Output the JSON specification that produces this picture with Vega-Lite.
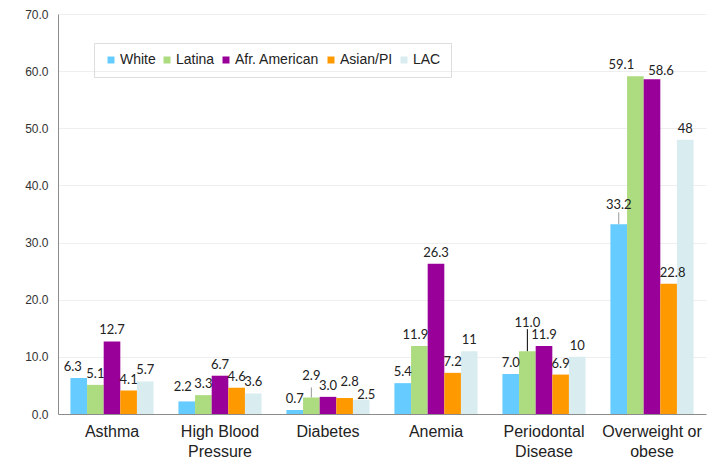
{
  "$schema": "https://vega.github.io/schema/vega-lite/v6.json",
  "width": 648,
  "height": 400,
  "autosize": {"type": "none"},
  "padding": {"left": 58, "top": 14, "right": 8, "bottom": 55},
  "background": "white",
  "config": {
    "view": {"stroke": null},
    "font": "Liberation Sans"
  },
  "data": {
    "values": [
      {"condition": "Asthma", "group": "White", "value": 6.3, "label": "6.3"},
      {"condition": "Asthma", "group": "Latina", "value": 5.1, "label": "5.1"},
      {"condition": "Asthma", "group": "Afr. American", "value": 12.7, "label": "12.7"},
      {"condition": "Asthma", "group": "Asian/PI", "value": 4.1, "label": "4.1"},
      {"condition": "Asthma", "group": "LAC", "value": 5.7, "label": "5.7"},
      {"condition": "High Blood Pressure", "group": "White", "value": 2.2, "label": "2.2"},
      {"condition": "High Blood Pressure", "group": "Latina", "value": 3.3, "label": "3.3"},
      {"condition": "High Blood Pressure", "group": "Afr. American", "value": 6.7, "label": "6.7"},
      {"condition": "High Blood Pressure", "group": "Asian/PI", "value": 4.6, "label": "4.6"},
      {"condition": "High Blood Pressure", "group": "LAC", "value": 3.6, "label": "3.6"},
      {"condition": "Diabetes", "group": "White", "value": 0.7, "label": "0.7"},
      {"condition": "Diabetes", "group": "Latina", "value": 2.9, "label": "2.9"},
      {"condition": "Diabetes", "group": "Afr. American", "value": 3.0, "label": "3.0"},
      {"condition": "Diabetes", "group": "Asian/PI", "value": 2.8, "label": "2.8"},
      {"condition": "Diabetes", "group": "LAC", "value": 2.5, "label": "2.5"},
      {"condition": "Anemia", "group": "White", "value": 5.4, "label": "5.4"},
      {"condition": "Anemia", "group": "Latina", "value": 11.9, "label": "11.9"},
      {"condition": "Anemia", "group": "Afr. American", "value": 26.3, "label": "26.3"},
      {"condition": "Anemia", "group": "Asian/PI", "value": 7.2, "label": "7.2"},
      {"condition": "Anemia", "group": "LAC", "value": 11, "label": "11"},
      {"condition": "Periodontal Disease", "group": "White", "value": 7.0, "label": "7.0"},
      {"condition": "Periodontal Disease", "group": "Latina", "value": 11.0, "label": "11.0"},
      {"condition": "Periodontal Disease", "group": "Afr. American", "value": 11.9, "label": "11.9"},
      {"condition": "Periodontal Disease", "group": "Asian/PI", "value": 6.9, "label": "6.9"},
      {"condition": "Periodontal Disease", "group": "LAC", "value": 10, "label": "10"},
      {"condition": "Overweight or obese", "group": "White", "value": 33.2, "label": "33.2"},
      {"condition": "Overweight or obese", "group": "Latina", "value": 59.1, "label": "59.1"},
      {"condition": "Overweight or obese", "group": "Afr. American", "value": 58.6, "label": "58.6"},
      {"condition": "Overweight or obese", "group": "Asian/PI", "value": 22.8, "label": "22.8"},
      {"condition": "Overweight or obese", "group": "LAC", "value": 48, "label": "48"}
    ]
  },
  "encoding": {
    "x": {
      "field": "condition",
      "type": "nominal",
      "sort": ["Asthma", "High Blood Pressure", "Diabetes", "Anemia", "Periodontal Disease", "Overweight or obese"],
      "scale": {"paddingInner": 0.23, "paddingOuter": 0.115},
      "axis": {
        "title": null,
        "labelAngle": 0,
        "labelFontSize": 16,
        "labelColor": "#222222",
        "labelLineHeight": 20,
        "labelPadding": 9,
        "labelLimit": 200,
        "ticks": false,
        "domainColor": "#8c8c8c",
        "labelExpr": "datum.value == 'High Blood Pressure' ? ['High Blood', 'Pressure'] : datum.value == 'Periodontal Disease' ? ['Periodontal', 'Disease'] : datum.value == 'Overweight or obese' ? ['Overweight or', 'obese'] : datum.value"
      }
    },
    "xOffset": {
      "field": "group",
      "type": "nominal",
      "sort": ["White", "Latina", "Afr. American", "Asian/PI", "LAC"],
      "scale": {"paddingInner": 0, "paddingOuter": 0}
    },
    "y": {
      "field": "value",
      "type": "quantitative",
      "scale": {"domain": [0, 70], "nice": false},
      "axis": {
        "title": null,
        "values": [0, 10, 20, 30, 40, 50, 60, 70],
        "format": ".1f",
        "labelFontSize": 12,
        "labelColor": "#333333",
        "labelPadding": 10,
        "ticks": false,
        "domainColor": "#8c8c8c",
        "gridColor": "#eeeeee"
      }
    }
  },
  "layer": [
    {
      "mark": {"type": "bar"},
      "encoding": {
        "color": {
          "field": "group",
          "type": "nominal",
          "sort": ["White", "Latina", "Afr. American", "Asian/PI", "LAC"],
          "scale": {
            "domain": ["White", "Latina", "Afr. American", "Asian/PI", "LAC"],
            "range": ["#66ccff", "#addb7f", "#990099", "#ff9900", "#d9edf0"]
          },
          "legend": {
            "title": null,
            "orient": "none",
            "direction": "horizontal",
            "legendX": 36,
            "legendY": 29,
            "padding": 10,
            "strokeColor": "#dddddd",
            "symbolType": "square",
            "symbolSize": 49,
            "symbolStrokeWidth": 0,
            "labelFontSize": 14,
            "labelColor": "#222222",
            "labelOffset": 2,
            "columnPadding": 4
          }
        }
      }
    },
    {
      "transform": [{"filter": "!((datum.condition == 'Asthma' && datum.group == 'White') || (datum.condition == 'High Blood Pressure' && datum.group == 'White') || (datum.condition == 'Diabetes' && (datum.group == 'Latina' || datum.group == 'Asian/PI' || datum.group == 'LAC')) || (datum.condition == 'Anemia' && datum.group == 'Latina') || (datum.condition == 'Periodontal Disease' && datum.group == 'Latina') || (datum.condition == 'Overweight or obese' && datum.group != 'LAC'))"}],
      "mark": {"type": "text", "dy": -4, "font": "Lato", "fontSize": 13, "color": "#222222", "baseline": "bottom"},
      "encoding": {"text": {"field": "label"}}
    },
    {
      "transform": [{"filter": "datum.condition == 'Asthma' && datum.group == 'White'"}],
      "mark": {"type": "text", "dx": -6, "dy": -4, "font": "Lato", "fontSize": 13, "color": "#222222", "baseline": "bottom"},
      "encoding": {"text": {"field": "label"}}
    },
    {
      "transform": [{"filter": "datum.condition == 'High Blood Pressure' && datum.group == 'White'"}],
      "mark": {"type": "text", "dx": -4, "dy": -7, "font": "Lato", "fontSize": 13, "color": "#222222", "baseline": "bottom"},
      "encoding": {"text": {"field": "label"}}
    },
    {
      "transform": [{"filter": "datum.condition == 'Diabetes' && datum.group == 'Latina'"}],
      "mark": {"type": "text", "dy": -14, "font": "Lato", "fontSize": 13, "color": "#222222", "baseline": "bottom"},
      "encoding": {"text": {"field": "label"}}
    },
    {
      "transform": [{"filter": "datum.condition == 'Diabetes' && datum.group == 'Asian/PI'"}],
      "mark": {"type": "text", "dx": 5, "dy": -9, "font": "Lato", "fontSize": 13, "color": "#222222", "baseline": "bottom"},
      "encoding": {"text": {"field": "label"}}
    },
    {
      "transform": [{"filter": "datum.condition == 'Diabetes' && datum.group == 'LAC'"}],
      "mark": {"type": "text", "dx": 5, "dy": 2, "font": "Lato", "fontSize": 13, "color": "#222222", "baseline": "bottom"},
      "encoding": {"text": {"field": "label"}}
    },
    {
      "transform": [{"filter": "datum.condition == 'Anemia' && datum.group == 'Latina'"}],
      "mark": {"type": "text", "dx": -4, "dy": -4, "font": "Lato", "fontSize": 13, "color": "#222222", "baseline": "bottom"},
      "encoding": {"text": {"field": "label"}}
    },
    {
      "transform": [{"filter": "datum.condition == 'Periodontal Disease' && datum.group == 'Latina'"}],
      "mark": {"type": "text", "dy": -21, "font": "Lato", "fontSize": 13, "color": "#222222", "baseline": "bottom"},
      "encoding": {"text": {"field": "label"}}
    },
    {
      "transform": [{"filter": "datum.condition == 'Overweight or obese' && datum.group == 'White'"}],
      "mark": {"type": "text", "dy": -12, "font": "Lato", "fontSize": 13, "color": "#222222", "baseline": "bottom"},
      "encoding": {"text": {"field": "label"}}
    },
    {
      "transform": [{"filter": "datum.condition == 'Overweight or obese' && datum.group == 'Latina'"}],
      "mark": {"type": "text", "dx": -14, "dy": -4, "font": "Lato", "fontSize": 13, "color": "#222222", "baseline": "bottom"},
      "encoding": {"text": {"field": "label"}}
    },
    {
      "transform": [{"filter": "datum.condition == 'Overweight or obese' && datum.group == 'Afr. American'"}],
      "mark": {"type": "text", "dx": 9, "dy": -1, "font": "Lato", "fontSize": 13, "color": "#222222", "baseline": "bottom"},
      "encoding": {"text": {"field": "label"}}
    },
    {
      "transform": [{"filter": "datum.condition == 'Overweight or obese' && datum.group == 'Asian/PI'"}],
      "mark": {"type": "text", "dx": 4, "dy": -4, "font": "Lato", "fontSize": 13, "color": "#222222", "baseline": "bottom"},
      "encoding": {"text": {"field": "label"}}
    },
    {
      "transform": [{"filter": "datum.condition == 'Diabetes' && datum.group == 'Latina'"}],
      "mark": {"type": "rule", "color": "#999999", "strokeWidth": 1, "y2Offset": -10},
      "encoding": {"y2": {"field": "value"}}
    },
    {
      "transform": [{"filter": "datum.condition == 'Overweight or obese' && datum.group == 'White'"}],
      "mark": {"type": "rule", "color": "#999999", "strokeWidth": 1, "y2Offset": -12},
      "encoding": {"y2": {"field": "value"}}
    },
    {
      "transform": [{"filter": "datum.condition == 'Periodontal Disease' && datum.group == 'Latina'"}],
      "mark": {"type": "rule", "color": "#000000", "strokeWidth": 1, "y2Offset": -22},
      "encoding": {"y2": {"field": "value"}}
    }
  ]
}
